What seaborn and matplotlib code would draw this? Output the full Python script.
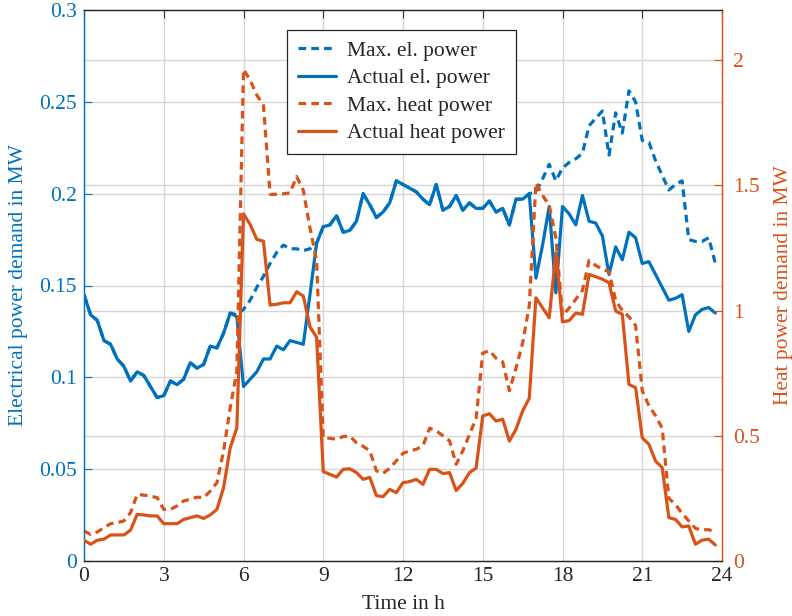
import numpy as np
import pandas as pd
import matplotlib
matplotlib.use("Agg")
import matplotlib.pyplot as plt
from matplotlib.transforms import blended_transform_factory
from matplotlib.lines import Line2D
import seaborn as sns

# 15-minute resolution over one day
hours = np.arange(96) * 0.25

el_max = [
    0.145, 0.134, 0.131, 0.120, 0.118, 0.110, 0.106, 0.098,
    0.103, 0.101, 0.095, 0.089, 0.090, 0.098, 0.096, 0.099,
    0.108, 0.105, 0.107, 0.117, 0.116, 0.124, 0.135, 0.134,
    0.137, 0.142, 0.149, 0.155, 0.162, 0.168, 0.172, 0.170,
    0.170, 0.169, 0.170, 0.173, 0.182, 0.183, 0.188, 0.179,
    0.180, 0.185, 0.200, 0.194, 0.187, 0.190, 0.195, 0.207,
    0.205, 0.203, 0.201, 0.197, 0.194, 0.205, 0.191, 0.193,
    0.199, 0.191, 0.195, 0.192, 0.192, 0.196, 0.190, 0.192,
    0.183, 0.197, 0.197, 0.200, 0.201, 0.208, 0.216, 0.207,
    0.214, 0.217, 0.219, 0.222, 0.237, 0.241, 0.245, 0.221,
    0.244, 0.233, 0.256, 0.250, 0.229, 0.228, 0.218, 0.210,
    0.202, 0.205, 0.207, 0.175, 0.174, 0.174, 0.176, 0.162,
]

el_actual = [
    0.145, 0.134, 0.131, 0.120, 0.118, 0.110, 0.106, 0.098,
    0.103, 0.101, 0.095, 0.089, 0.090, 0.098, 0.096, 0.099,
    0.108, 0.105, 0.107, 0.117, 0.116, 0.124, 0.135, 0.133,
    0.095, 0.099, 0.103, 0.110, 0.110, 0.117, 0.115, 0.120,
    0.119, 0.118, 0.145, 0.173, 0.182, 0.183, 0.188, 0.179,
    0.180, 0.185, 0.200, 0.194, 0.187, 0.190, 0.195, 0.207,
    0.205, 0.203, 0.201, 0.197, 0.194, 0.205, 0.191, 0.193,
    0.199, 0.191, 0.195, 0.192, 0.192, 0.196, 0.190, 0.192,
    0.183, 0.197, 0.197, 0.200, 0.154, 0.172, 0.193, 0.146,
    0.193, 0.189, 0.183, 0.199, 0.185, 0.184, 0.177, 0.156,
    0.171, 0.164, 0.179, 0.176, 0.162, 0.163, 0.156, 0.149,
    0.142, 0.143, 0.145, 0.125, 0.134, 0.137, 0.138, 0.135,
]

heat_max = [
    0.120, 0.106, 0.116, 0.133, 0.149, 0.153, 0.160, 0.193,
    0.266, 0.263, 0.259, 0.253, 0.206, 0.206, 0.220, 0.240,
    0.246, 0.255, 0.253, 0.279, 0.313, 0.439, 0.612, 0.758,
    1.963, 1.920, 1.860, 1.820, 1.464, 1.464, 1.466, 1.470,
    1.535, 1.480, 1.330, 1.200, 0.492, 0.490, 0.486, 0.497,
    0.499, 0.472, 0.458, 0.440, 0.360, 0.350, 0.370, 0.400,
    0.430, 0.440, 0.446, 0.460, 0.530, 0.520, 0.500, 0.480,
    0.386, 0.440, 0.505, 0.570, 0.830, 0.840, 0.810, 0.795,
    0.680, 0.770, 0.870, 1.020, 1.510, 1.460, 1.420, 1.290,
    0.980, 1.010, 1.045, 1.080, 1.200, 1.180, 1.165, 1.155,
    1.040, 1.000, 0.975, 0.940, 0.680, 0.620, 0.580, 0.530,
    0.250, 0.225, 0.190, 0.160, 0.130, 0.125, 0.125, 0.115,
]

heat_actual = [
    0.083, 0.067, 0.083, 0.087, 0.104, 0.104, 0.104, 0.123,
    0.186, 0.184, 0.180, 0.180, 0.149, 0.149, 0.149, 0.166,
    0.173, 0.180, 0.170, 0.184, 0.206, 0.293, 0.452, 0.532,
    1.386, 1.344, 1.284, 1.277, 1.022, 1.025, 1.031, 1.031,
    1.075, 1.058, 0.935, 0.893, 0.357, 0.346, 0.335, 0.366,
    0.368, 0.353, 0.326, 0.334, 0.261, 0.257, 0.286, 0.273,
    0.313, 0.317, 0.326, 0.306, 0.366, 0.366, 0.349, 0.353,
    0.281, 0.310, 0.353, 0.371, 0.579, 0.588, 0.559, 0.566,
    0.479, 0.526, 0.599, 0.650, 1.051, 1.011, 0.971, 1.230,
    0.955, 0.960, 0.990, 0.985, 1.144, 1.135, 1.125, 1.111,
    0.998, 0.985, 0.705, 0.692, 0.492, 0.466, 0.399, 0.373,
    0.173, 0.166, 0.136, 0.140, 0.067, 0.083, 0.087, 0.064,
]

x_ticks = [0, 3, 6, 9, 12, 15, 18, 21, 24]
el_ticks = [0, 0.05, 0.1, 0.15, 0.2, 0.25, 0.3]
el_tick_labels = ["0", "0.05", "0.1", "0.15", "0.2", "0.25", "0.3"]
heat_ticks = [0, 0.5, 1, 1.5, 2]
heat_tick_labels = ["0", "0.5", "1", "1.5", "2"]

legend_labels = ["Max. el. power", "Actual el. power",
                 "Max. heat power", "Actual heat power"]

BLUE = "#0072BD"
ORANGE = "#D95319"
GRID = "#d6d6d6"
LW = 2.3
DASH = (2.4, 1.6)
FS = 15.5

sns.set_style("white")
plt.rcParams["font.family"] = ["Liberation Serif", "DejaVu Serif"]

df = pd.DataFrame({
    "hour": hours,
    "el_max": el_max,
    "el_actual": el_actual,
    "heat_max": heat_max,
    "heat_actual": heat_actual,
})

fig = plt.figure(figsize=(7.92, 6.16), dpi=100)
ax = fig.add_axes([84 / 792, 1 - 561 / 616, (722 - 84) / 792, (561 - 10) / 616])
ax2 = ax.twinx()

ax.set_xlim(0, 24)
ax.set_ylim(0, 0.3)
ax2.set_ylim(0, 2.2)

# grid: vertical + left-axis levels + right-axis levels, all underneath the data
for xv in x_ticks[1:-1]:
    ax.axvline(xv, color=GRID, lw=1.0, zorder=0.5)
for yv in el_ticks[1:-1]:
    ax.axhline(yv, color=GRID, lw=1.0, zorder=0.5)
trans = blended_transform_factory(ax.transAxes, ax2.transData)
for hv in heat_ticks[1:]:
    ax.plot([0, 1], [hv, hv], transform=trans, color=GRID, lw=1.0, zorder=0.5)

sns.lineplot(data=df, x="hour", y="el_max", ax=ax, color=BLUE, lw=LW,
             linestyle="--", dashes=False, legend=False, zorder=2)
sns.lineplot(data=df, x="hour", y="el_actual", ax=ax, color=BLUE, lw=LW,
             legend=False, zorder=3)
sns.lineplot(data=df, x="hour", y="heat_max", ax=ax2, color=ORANGE, lw=LW,
             linestyle="--", dashes=False, legend=False, zorder=2)
sns.lineplot(data=df, x="hour", y="heat_actual", ax=ax2, color=ORANGE, lw=LW,
             legend=False, zorder=3)
for a in (ax, ax2):
    for ln in a.get_lines():
        if ln.get_linestyle() == "--":
            ln.set_dashes(DASH)

ax.set_xticks(x_ticks)
ax.set_xticklabels([str(v) for v in x_ticks], fontsize=FS)
ax.set_yticks(el_ticks)
ax.set_yticklabels(el_tick_labels, fontsize=FS, color=BLUE)
ax2.set_yticks(heat_ticks)
ax2.set_yticklabels(heat_tick_labels, fontsize=FS, color=ORANGE)

ax.tick_params(axis="x", direction="in", length=6, width=0.8, color="#333333",
               top=True, pad=4)
ax.tick_params(axis="y", direction="in", length=6, width=0.8, color=BLUE, pad=5)
ax2.tick_params(axis="y", direction="in", length=6, width=0.8, color=ORANGE, pad=8)

ax.set_xlabel("Time in h", fontsize=FS, labelpad=7)
ax.set_ylabel("Electrical power demand in MW", fontsize=FS, color=BLUE, labelpad=8)
ax2.set_ylabel("Heat power demand in MW", fontsize=FS, color=ORANGE, labelpad=10)

for a in (ax, ax2):
    a.spines["left"].set_color(BLUE)
    a.spines["right"].set_color(ORANGE)
    a.spines["top"].set_color("#262626")
    a.spines["bottom"].set_color("#262626")
    for s in a.spines.values():
        s.set_linewidth(0.9)
        s.set_visible(True)

handles = [
    Line2D([], [], color=BLUE, lw=LW, dashes=DASH),
    Line2D([], [], color=BLUE, lw=LW),
    Line2D([], [], color=ORANGE, lw=LW, dashes=DASH),
    Line2D([], [], color=ORANGE, lw=LW),
]
leg = ax2.legend(handles, legend_labels, loc="upper left",
                 bbox_to_anchor=(0.318, 0.964), fontsize=FS, frameon=True,
                 fancybox=False, edgecolor="#262626", framealpha=1,
                 handlelength=1.8, handletextpad=0.5, borderpad=0.5,
                 labelspacing=0.35, borderaxespad=0)
leg.get_frame().set_linewidth(0.9)

fig.savefig("out.png", dpi=100)
